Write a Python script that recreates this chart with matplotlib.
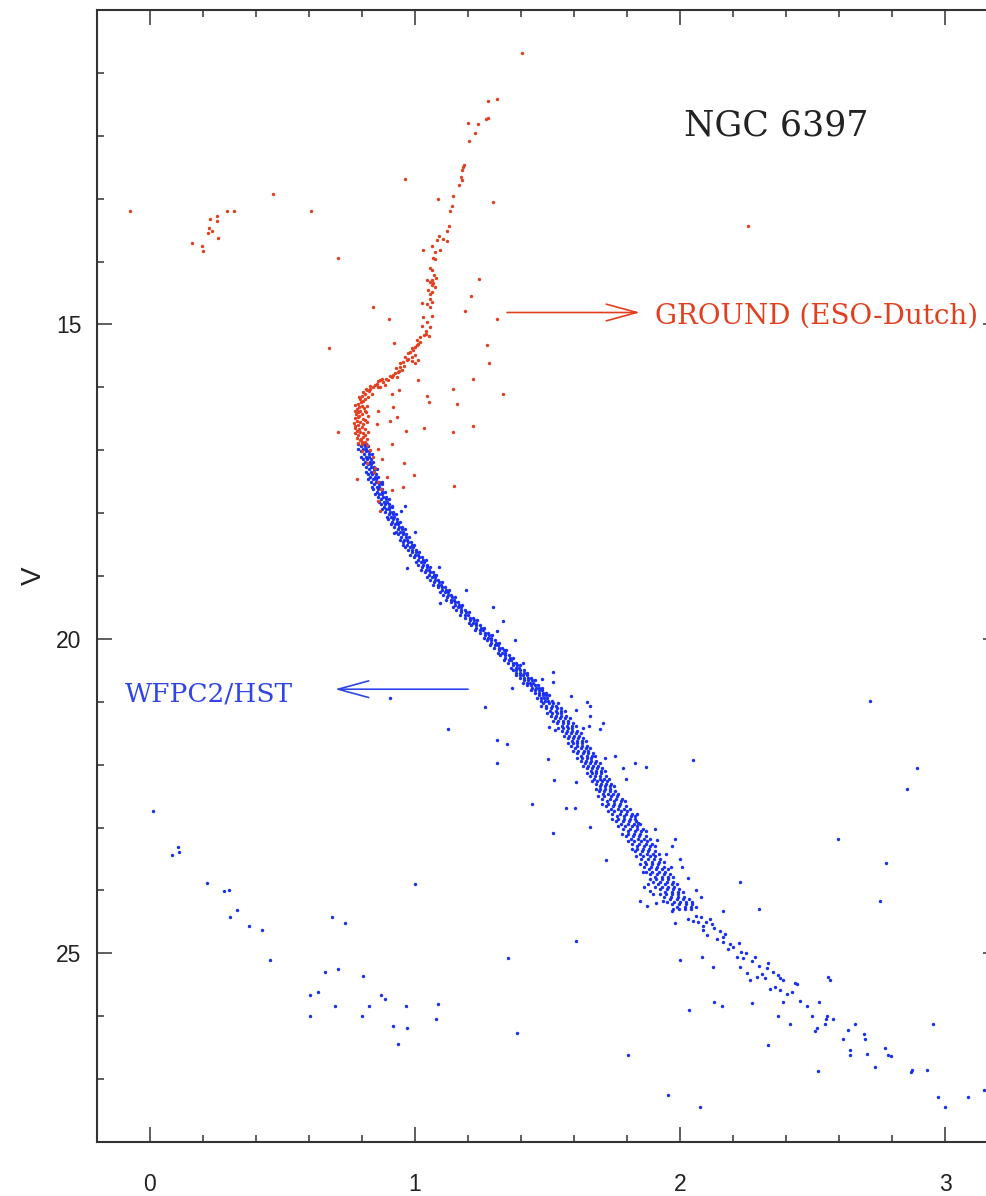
import matplotlib.pyplot as plt
from matplotlib.ticker import MultipleLocator, FixedLocator

# ---- data: (B-V colour, V magnitude) ----

# ground based photometry (ESO-Dutch), red points
ground_pts = [
    # blue horizontal branch / bright field
    (-0.075, 13.20), (0.160, 13.71), (0.196, 13.76), (0.200, 13.84), (0.226, 13.33),
    (0.253, 13.27), (0.253, 13.35), (0.223, 13.47), (0.234, 13.51), (0.219, 13.54),
    (0.257, 13.63), (0.290, 13.20), (0.317, 13.19), (0.464, 12.92), (0.607, 13.19),
    (0.710, 13.95), (0.962, 12.68), (1.404, 10.68), (2.257, 13.43),
    # field stars around the giant branch
    (0.840, 14.73), (0.902, 14.92), (0.920, 15.29), (0.675, 15.38), (1.296, 13.06),
    (1.240, 14.28), (1.210, 14.55), (1.190, 14.78), (1.310, 14.92), (1.270, 15.33),
    (1.280, 15.62), (1.220, 15.86), (1.142, 16.02), (1.333, 16.10), (1.160, 16.26),
    (1.218, 16.61), (1.145, 16.71), (1.034, 16.65), (0.966, 16.70), (0.708, 16.71),
    (0.912, 16.90), (0.862, 16.98), (0.874, 17.14), (0.958, 17.20), (0.997, 17.40),
    (0.782, 17.45), (0.956, 17.58), (1.148, 17.57), (0.912, 17.64), (0.895, 17.43),
    (0.862, 17.80), (0.868, 17.96), (1.013, 15.88), (0.941, 16.04), (0.912, 16.10),
    (1.046, 16.14), (1.054, 16.24), (0.862, 16.37), (0.918, 16.31), (0.906, 16.53),
    (0.933, 16.47), (0.855, 16.58),
    # red giant branch
    (1.275, 11.45), (1.308, 11.42), (1.200, 11.80), (1.238, 11.82), (1.268, 11.74),
    (1.274, 11.72), (1.226, 11.96), (1.204, 12.09), (1.186, 12.46), (1.182, 12.50),
    (1.176, 12.55), (1.174, 12.65), (1.176, 12.70), (1.167, 12.78), (1.145, 12.95),
    (1.088, 13.01), (1.138, 13.12), (1.132, 13.20), (1.130, 13.44), (1.120, 13.52),
    (1.092, 13.60), (1.107, 13.64), (1.084, 13.66), (1.120, 13.68), (1.063, 13.76),
    (1.094, 13.81), (1.075, 13.85), (1.031, 13.82), (1.069, 13.94), (1.075, 13.96),
    (1.057, 14.11), (1.063, 14.14), (1.072, 14.22), (1.079, 14.26), (1.063, 14.29),
    (1.044, 14.30), (1.069, 14.34), (1.063, 14.38), (1.057, 14.33), (1.050, 14.46),
    (1.057, 14.51), (1.057, 14.59), (1.075, 14.41), (1.063, 14.49), (1.025, 14.66),
    (1.044, 14.68), (1.063, 14.65), (1.057, 14.73), (1.063, 14.86), (1.031, 14.88),
    (1.044, 14.96), (1.025, 15.02), (1.057, 15.04), (1.042, 15.10), (1.034, 15.16),
    (1.054, 15.18), (1.019, 15.20), (1.042, 15.15),
    # subgiant branch and turnoff
    (1.006, 15.25), (1.013, 15.31), (1.000, 15.36), (0.994, 15.41), (0.981, 15.44),
    (1.000, 15.49), (0.987, 15.52), (0.968, 15.57), (1.013, 15.57), (1.000, 15.62),
    (0.956, 15.60), (0.943, 15.68), (0.950, 15.73), (0.937, 15.76), (0.925, 15.78),
    (0.931, 15.84), (0.912, 15.84), (0.899, 15.89), (0.881, 15.92), (0.868, 15.89),
    (0.887, 15.97), (0.855, 15.94), (0.868, 16.00), (0.843, 16.00), (0.830, 16.02),
    (0.818, 16.05), (0.837, 16.10), (0.811, 16.10), (0.799, 16.13), (0.824, 16.16),
    (0.792, 16.18), (0.805, 16.21), (0.786, 16.26), (0.799, 16.29), (0.818, 16.29),
    (0.780, 16.34), (0.792, 16.37), (0.811, 16.37), (0.777, 16.42), (0.799, 16.42),
    (0.824, 16.45), (0.786, 16.47), (0.805, 16.50), (0.780, 16.53), (0.792, 16.55),
    (0.818, 16.55), (0.774, 16.61), (0.799, 16.63), (0.811, 16.66), (0.780, 16.69),
    (0.792, 16.71), (0.824, 16.71), (0.786, 16.76), (0.805, 16.79), (0.818, 16.82),
    (0.792, 16.84), (0.811, 16.87), (0.799, 16.90),
    (1.020, 15.28), (1.008, 15.33), (0.990, 15.38), (0.975, 15.46), (0.962, 15.52),
    (0.975, 15.55), (0.990, 15.58), (0.945, 15.62), (0.960, 15.66), (0.930, 15.70),
    (0.940, 15.74), (0.918, 15.80), (0.905, 15.82), (0.890, 15.86), (0.875, 15.87),
    (0.860, 15.90), (0.848, 15.96), (0.862, 15.99), (0.830, 15.98), (0.815, 16.02),
    (0.825, 16.06), (0.805, 16.08), (0.790, 16.15), (0.810, 16.19), (0.795, 16.24),
    (0.775, 16.28), (0.790, 16.31), (0.808, 16.33), (0.772, 16.38), (0.785, 16.40),
    (0.815, 16.40), (0.790, 16.45), (0.772, 16.49), (0.812, 16.52), (0.770, 16.57),
    (0.785, 16.60), (0.805, 16.58), (0.772, 16.65), (0.790, 16.67), (0.803, 16.73),
    (0.775, 16.73), (0.812, 16.76), (0.780, 16.80), (0.795, 16.82), (0.800, 16.87),
    (0.785, 16.88), (0.820, 16.92),
    (0.830, 17.00), (0.840, 17.10), (0.850, 17.28), (0.860, 17.50), (0.870, 17.62),
    (0.800, 17.02), (0.820, 17.20), (0.845, 17.35),
]

# WFPC2/HST main sequence, read row by row: (V, colours in that row)
hst_ms_rows = [
    (16.90, [0.784, 0.802, 0.815]), (16.94, [0.795, 0.813, 0.824]),
    (16.98, [0.786, 0.803, 0.814]), (17.02, [0.797, 0.815, 0.827]),
    (17.06, [0.808, 0.825, 0.836]), (17.10, [0.797, 0.815, 0.826]),
    (17.14, [0.802, 0.820, 0.833]), (17.18, [0.813, 0.831, 0.842]),
    (17.22, [0.805, 0.822, 0.833]), (17.26, [0.816, 0.834, 0.846]),
    (17.30, [0.827, 0.844, 0.855]), (17.34, [0.816, 0.834, 0.845]),
    (17.38, [0.821, 0.839, 0.852]), (17.42, [0.832, 0.850, 0.861]),
    (17.46, [0.823, 0.840, 0.851]), (17.50, [0.834, 0.852, 0.864]),
    (17.54, [0.846, 0.863, 0.874]), (17.58, [0.837, 0.855, 0.866]),
    (17.62, [0.843, 0.861, 0.874]), (17.66, [0.856, 0.874, 0.885]),
    (17.70, [0.848, 0.865, 0.876]), (17.74, [0.861, 0.879, 0.891]),
    (17.78, [0.873, 0.890, 0.901]), (17.82, [0.864, 0.882, 0.893]),
    (17.86, [0.870, 0.888, 0.901]), (17.90, [0.883, 0.901, 0.912]),
    (17.94, [0.875, 0.892, 0.903]), (17.98, [0.888, 0.906, 0.918]),
    (18.02, [0.901, 0.918, 0.929]), (18.06, [0.893, 0.911, 0.922]),
    (18.10, [0.900, 0.918, 0.931]), (18.14, [0.914, 0.932, 0.943]),
    (18.18, [0.908, 0.925, 0.936]), (18.22, [0.922, 0.940, 0.952]),
    (18.26, [0.935, 0.952, 0.963]), (18.30, [0.927, 0.945, 0.956]),
    (18.34, [0.935, 0.953, 0.966]), (18.38, [0.949, 0.967, 0.978]),
    (18.42, [0.942, 0.959, 0.970]), (18.46, [0.956, 0.974, 0.986]),
    (18.50, [0.970, 0.987, 0.998]), (18.54, [0.963, 0.981, 0.992]),
    (18.58, [0.972, 0.990, 1.003]), (18.62, [0.987, 1.005, 1.016]),
    (18.66, [0.982, 0.999, 1.010]), (18.70, [0.997, 1.015, 1.027]),
    (18.74, [1.012, 1.029, 1.040]), (18.78, [1.004, 1.022, 1.033]),
    (18.82, [1.013, 1.031, 1.044]), (18.86, [1.028, 1.046, 1.057]),
    (18.90, [1.023, 1.040, 1.051]), (18.94, [1.038, 1.056, 1.068]),
    (18.98, [1.053, 1.070, 1.081]), (19.02, [1.047, 1.065, 1.076]),
    (19.06, [1.057, 1.075, 1.088]), (19.10, [1.073, 1.091, 1.102]),
    (19.14, [1.069, 1.086, 1.097]), (19.18, [1.085, 1.103, 1.115]),
    (19.22, [1.101, 1.118, 1.129]), (19.26, [1.095, 1.113, 1.124]),
    (19.30, [1.105, 1.123, 1.136]), (19.34, [1.122, 1.140, 1.151]),
    (19.38, [1.118, 1.135, 1.146]), (19.42, [1.134, 1.152, 1.164]),
    (19.46, [1.150, 1.167, 1.178]), (19.50, [1.144, 1.162, 1.173]),
    (19.54, [1.156, 1.174, 1.187]), (19.58, [1.173, 1.191, 1.202]),
    (19.62, [1.171, 1.188, 1.199]), (19.66, [1.188, 1.206, 1.218]),
    (19.70, [1.206, 1.223, 1.234]), (19.74, [1.202, 1.220, 1.231]),
    (19.78, [1.213, 1.231, 1.244]), (19.82, [1.231, 1.249, 1.260]),
    (19.86, [1.228, 1.245, 1.256]), (19.90, [1.246, 1.264, 1.276]),
    (19.94, [1.264, 1.281, 1.292]), (19.98, [1.259, 1.277, 1.288]),
    (20.02, [1.270, 1.288, 1.301]), (20.06, [1.287, 1.305, 1.316]),
    (20.10, [1.284, 1.301, 1.312]), (20.14, [1.300, 1.318, 1.330]),
    (20.18, [1.317, 1.334, 1.345]), (20.22, [1.312, 1.330, 1.341]),
    (20.26, [1.322, 1.340, 1.353]), (20.30, [1.339, 1.357, 1.368]),
    (20.34, [1.336, 1.353, 1.364]), (20.38, [1.352, 1.370, 1.382]),
    (20.42, [1.369, 1.386, 1.397]), (20.46, [1.364, 1.382, 1.393]),
    (20.50, [1.368, 1.383, 1.396, 1.410]), (20.54, [1.383, 1.398, 1.410, 1.423]),
    (20.58, [1.381, 1.395, 1.409, 1.421]), (20.62, [1.396, 1.411, 1.425, 1.437]),
    (20.66, [1.413, 1.428, 1.441, 1.451]), (20.70, [1.409, 1.421, 1.434, 1.446]),
    (20.74, [1.423, 1.438, 1.451, 1.465]), (20.78, [1.440, 1.455, 1.467, 1.480]),
    (20.82, [1.439, 1.453, 1.467, 1.479]), (20.86, [1.453, 1.468, 1.482, 1.494]),
    (20.90, [1.468, 1.483, 1.496, 1.506]), (20.94, [1.462, 1.474, 1.487, 1.499]),
    (20.98, [1.474, 1.489, 1.502, 1.516]), (21.02, [1.483, 1.504, 1.522, 1.539]),
    (21.06, [1.477, 1.496, 1.516, 1.533]), (21.10, [1.494, 1.515, 1.534, 1.552]),
    (21.14, [1.511, 1.532, 1.551, 1.565]), (21.18, [1.499, 1.517, 1.534, 1.552]),
    (21.22, [1.512, 1.533, 1.552, 1.571]), (21.26, [1.528, 1.549, 1.567, 1.584]),
    (21.30, [1.520, 1.539, 1.559, 1.576]), (21.34, [1.537, 1.558, 1.577, 1.595]),
    (21.38, [1.554, 1.575, 1.594, 1.608]), (21.42, [1.541, 1.559, 1.576, 1.594]),
    (21.46, [1.553, 1.574, 1.593, 1.612]), (21.50, [1.569, 1.590, 1.608, 1.625]),
    (21.54, [1.561, 1.580, 1.600, 1.617]), (21.58, [1.576, 1.597, 1.616, 1.634]),
    (21.62, [1.591, 1.612, 1.631, 1.645]), (21.66, [1.577, 1.595, 1.612, 1.630]),
    (21.70, [1.589, 1.610, 1.629, 1.648]), (21.74, [1.605, 1.626, 1.644, 1.661]),
    (21.78, [1.597, 1.616, 1.636, 1.653]), (21.82, [1.612, 1.633, 1.652, 1.670]),
    (21.86, [1.627, 1.648, 1.667, 1.681]), (21.90, [1.613, 1.631, 1.648, 1.666]),
    (21.94, [1.625, 1.646, 1.665, 1.684]), (21.98, [1.641, 1.662, 1.680, 1.697]),
    (22.02, [1.633, 1.652, 1.672, 1.689]), (22.06, [1.648, 1.669, 1.688, 1.706]),
    (22.10, [1.663, 1.684, 1.703, 1.717]), (22.14, [1.649, 1.667, 1.684, 1.702]),
    (22.18, [1.660, 1.681, 1.700, 1.719]), (22.22, [1.676, 1.697, 1.715, 1.732]),
    (22.26, [1.667, 1.686, 1.706, 1.723]), (22.30, [1.682, 1.703, 1.722, 1.740]),
    (22.34, [1.697, 1.718, 1.737, 1.751]), (22.38, [1.682, 1.700, 1.717, 1.735]),
    (22.42, [1.694, 1.715, 1.734, 1.753]), (22.46, [1.709, 1.730, 1.748, 1.765]),
    (22.50, [1.690, 1.715, 1.740, 1.762]), (22.54, [1.707, 1.734, 1.759, 1.782]),
    (22.58, [1.725, 1.752, 1.776, 1.794]), (22.62, [1.706, 1.728, 1.751, 1.773]),
    (22.66, [1.720, 1.747, 1.771, 1.796]), (22.70, [1.739, 1.766, 1.789, 1.811]),
    (22.74, [1.727, 1.752, 1.777, 1.799]), (22.78, [1.745, 1.772, 1.797, 1.820]),
    (22.82, [1.763, 1.790, 1.814, 1.832]), (22.86, [1.745, 1.767, 1.790, 1.812]),
    (22.90, [1.758, 1.785, 1.809, 1.834]), (22.94, [1.778, 1.805, 1.828, 1.850]),
    (22.98, [1.767, 1.792, 1.817, 1.839]), (23.02, [1.784, 1.811, 1.836, 1.859]),
    (23.06, [1.802, 1.829, 1.853, 1.871]), (23.10, [1.783, 1.805, 1.828, 1.850]),
    (23.14, [1.796, 1.823, 1.847, 1.872]), (23.18, [1.814, 1.841, 1.864, 1.886]),
    (23.22, [1.802, 1.827, 1.852, 1.874]), (23.26, [1.818, 1.845, 1.870, 1.893]),
    (23.30, [1.836, 1.863, 1.887, 1.905]), (23.34, [1.817, 1.839, 1.862, 1.884]),
    (23.38, [1.829, 1.856, 1.880, 1.905]), (23.42, [1.848, 1.875, 1.898, 1.920]),
    (23.46, [1.835, 1.860, 1.885, 1.907]), (23.50, [1.851, 1.878, 1.903, 1.926]),
    (23.54, [1.869, 1.896, 1.920, 1.938]), (23.58, [1.850, 1.872, 1.895, 1.917]),
    (23.62, [1.863, 1.890, 1.914, 1.939]), (23.66, [1.882, 1.909, 1.932, 1.954]),
    (23.70, [1.870, 1.895, 1.920, 1.942]), (23.74, [1.887, 1.914, 1.939, 1.962]),
    (23.78, [1.905, 1.932, 1.956, 1.974]), (23.82, [1.886, 1.908, 1.931, 1.953]),
    (23.86, [1.899, 1.926, 1.950, 1.975]), (23.90, [1.918, 1.945, 1.968, 1.990]),
    (23.94, [1.906, 1.931, 1.956, 1.978]), (23.98, [1.923, 1.950, 1.975, 1.998]),
    (24.02, [1.942, 1.969, 1.993, 2.011]), (24.06, [1.925, 1.947, 1.970, 1.992]),
    (24.10, [1.940, 1.967, 1.991, 2.016]), (24.14, [1.961, 1.988, 2.011, 2.033]),
    (24.18, [1.951, 1.976, 2.001, 2.023]), (24.22, [1.970, 1.997, 2.022, 2.045]),
    (24.26, [1.990, 2.017, 2.041, 2.059]), (24.30, [1.973, 1.995, 2.018, 2.040]),
]

# WFPC2/HST scattered stars, faint main sequence and white dwarfs
hst_pts = [
    (0.874, 17.51), (0.912, 17.89), (0.962, 17.88), (0.946, 17.96), (1.000, 18.30),
    (0.922, 18.31), (0.956, 18.51), (0.969, 18.87), (1.092, 18.85), (1.192, 19.22),
    (1.094, 19.43), (1.296, 19.49), (1.333, 19.71), (1.308, 19.88), (1.377, 20.01),
    (1.409, 20.38), (1.365, 20.78), (0.906, 20.94), (1.264, 21.08), (1.123, 21.43),
    (1.308, 21.61), (1.308, 21.98), (1.346, 21.67), (1.520, 20.52), (1.522, 20.69),
    (1.478, 20.64), (1.589, 20.91), (1.608, 21.13), (1.648, 21.00), (1.660, 21.07),
    (1.660, 21.22), (1.658, 21.38), (1.635, 21.41), (1.711, 21.34), (1.698, 21.44),
    (1.507, 21.40), (1.528, 21.45), (1.503, 21.91), (1.525, 22.24), (1.608, 22.28),
    (1.755, 21.87), (1.717, 21.89), (1.830, 21.97), (1.871, 22.04), (1.786, 22.06),
    (1.796, 22.23), (2.050, 21.92), (2.717, 20.99), (2.893, 22.05), (2.855, 22.38),
    (1.570, 22.69), (1.604, 22.69), (1.440, 22.62), (1.522, 23.08), (1.660, 22.99),
    (1.721, 23.52), (1.837, 22.78), (1.843, 22.93), (1.830, 22.86), (1.906, 23.02),
    (1.912, 23.20), (1.947, 23.42), (1.981, 23.18), (1.965, 23.63), (2.006, 23.62),
    (2.226, 23.86), (2.597, 23.18), (2.777, 23.57), (2.755, 24.16), (2.299, 24.29),
    (2.161, 24.32), (2.044, 24.18), (1.981, 24.52), (1.606, 24.81), (1.352, 25.08),
    (1.386, 26.26), (1.803, 26.62), (1.000, 23.89),
    (1.970, 23.30), (2.000, 23.50), (2.030, 23.80), (2.060, 24.00), (2.080, 24.10),
    (1.860, 23.70), (1.880, 23.90), (1.900, 24.05), (1.849, 24.16), (1.875, 24.25),
    (1.909, 24.20), (1.887, 24.01), (1.936, 24.16), (1.864, 23.95), (1.968, 24.32),
    # faint main sequence
    (2.031, 24.46), (2.050, 24.48), (2.069, 24.50), (2.088, 24.57), (2.113, 24.45),
    (2.120, 24.53), (2.088, 24.63), (2.101, 24.71), (2.138, 24.77), (2.161, 24.74),
    (2.164, 24.82), (2.183, 24.93), (2.000, 25.11), (2.082, 25.06), (2.126, 25.22),
    (2.157, 25.83), (2.035, 25.90), (2.224, 24.83), (2.214, 25.06), (2.239, 25.08),
    (2.283, 25.06), (2.226, 25.22), (2.252, 25.32), (2.271, 25.79), (2.264, 25.43),
    (2.289, 25.38), (2.308, 25.33), (2.321, 25.40), (2.333, 25.16), (2.327, 25.24),
    (2.340, 25.56), (2.358, 25.53), (2.377, 25.40), (2.387, 25.42), (2.377, 25.59),
    (2.402, 25.64), (2.421, 25.61), (2.440, 25.48), (2.434, 25.47), (2.387, 25.77),
    (2.415, 26.13), (2.478, 25.83), (2.453, 25.75), (2.497, 26.00), (2.526, 25.77),
    (2.553, 26.00), (2.551, 26.05), (2.579, 26.05), (2.547, 26.13), (2.516, 26.18),
    (2.509, 26.24), (2.522, 26.87), (2.560, 25.38), (2.566, 25.43), (2.614, 26.37),
    (2.635, 26.22), (2.660, 26.12), (2.642, 26.54), (2.642, 26.62), (2.694, 26.29),
    (2.698, 26.37), (2.704, 26.60), (2.736, 26.80), (2.774, 26.50), (2.786, 26.61),
    (2.795, 26.64), (2.874, 26.86), (2.870, 26.89), (2.933, 26.85), (2.956, 26.12),
    (2.975, 27.29), (3.000, 27.44), (3.088, 27.28), (3.147, 27.17), (1.956, 27.25),
    (2.075, 27.45), (2.333, 26.46), (2.128, 25.77), (2.371, 25.99),
    (2.060, 24.40), (2.080, 24.42), (2.100, 24.50), (2.130, 24.60), (2.150, 24.65),
    (2.170, 24.70), (2.190, 24.85), (2.200, 24.90), (2.230, 24.98), (2.250, 25.00),
    (2.270, 25.12), (2.300, 25.20), (2.350, 25.30), (2.370, 25.34),
    # white dwarf sequence and faint blue stars
    (0.013, 22.73), (0.082, 23.44), (0.107, 23.31), (0.111, 23.39), (0.216, 23.88),
    (0.279, 24.01), (0.299, 24.00), (0.330, 24.31), (0.302, 24.43), (0.375, 24.57),
    (0.424, 24.63), (0.453, 25.10), (0.686, 24.43), (0.736, 24.51), (0.604, 25.67),
    (0.633, 25.62), (0.660, 25.29), (0.708, 25.25), (0.604, 26.00), (0.698, 25.83),
    (0.805, 25.36), (0.801, 25.99), (0.828, 25.84), (0.872, 25.67), (0.887, 25.73),
    (0.916, 26.16), (0.966, 25.83), (0.971, 26.19), (0.937, 26.44), (1.088, 25.80),
    (1.079, 26.04),
]

RED = '#e23f1f'
BLUE = '#1a30f0'
TXT_BLUE = '#2f45e8'

hst_x = [x for v, xs in hst_ms_rows for x in xs] + [p[0] for p in hst_pts]
hst_v = [v for v, xs in hst_ms_rows for x in xs] + [p[1] for p in hst_pts]
gr_x = [p[0] for p in ground_pts]
gr_v = [p[1] for p in ground_pts]

fig = plt.figure(figsize=(9.87, 11.96), dpi=100)
ax = fig.add_axes([97 / 987, 54 / 1196, 901 / 987, 1132 / 1196])

ax.scatter(hst_x, hst_v, s=6, c=BLUE, linewidths=0)
ax.scatter(gr_x, gr_v, s=6, c=RED, linewidths=0)

ax.set_xlim(-0.2, 3.2)
ax.set_ylim(28, 10)

ax.xaxis.set_major_locator(MultipleLocator(1))
ax.xaxis.set_minor_locator(MultipleLocator(0.2))
ax.yaxis.set_major_locator(FixedLocator([15, 20, 25]))
ax.yaxis.set_minor_locator(MultipleLocator(1))
ax.tick_params(which='both', direction='in', top=True, right=True,
               width=1.1, color='#333333', labelcolor='#222222')
ax.tick_params(which='major', length=11, labelsize=16.5)
ax.tick_params(which='minor', length=5)
ax.tick_params(axis='x', which='major', pad=22)
ax.tick_params(axis='y', which='major', pad=11)
for lab in ax.get_xticklabels() + ax.get_yticklabels():
    lab.set_family('Liberation Sans')
for sp in ax.spines.values():
    sp.set_linewidth(1.5)
    sp.set_color('#333333')

ax.set_ylabel('V', fontsize=20, family='Liberation Sans', color='#222222')
ax.yaxis.set_label_coords(-0.056, 0.5)

# labels and arrows
ax.text(2.362, 11.84, 'NGC 6397', ha='center', va='center',
        family='DejaVu Serif', fontsize=25, color='#222222')
ax.text(1.906, 14.86, 'GROUND (ESO-Dutch)', ha='left', va='center',
        family='DejaVu Serif', fontsize=20, color=RED)
ax.text(-0.094, 20.87, 'WFPC2/HST', ha='left', va='center',
        family='DejaVu Serif', fontsize=19, color=TXT_BLUE)
ax.annotate('', xy=(1.849, 14.81), xytext=(1.347, 14.81),
            arrowprops=dict(arrowstyle='->,head_length=1.1,head_width=0.3',
                            mutation_scale=20, color=RED, lw=1.2,
                            shrinkA=0, shrinkB=0))
ax.annotate('', xy=(0.698, 20.80), xytext=(1.2, 20.80),
            arrowprops=dict(arrowstyle='->,head_length=1.1,head_width=0.3',
                            mutation_scale=20, color=TXT_BLUE, lw=1.2,
                            shrinkA=0, shrinkB=0))

plt.savefig('out.png', dpi=100)
